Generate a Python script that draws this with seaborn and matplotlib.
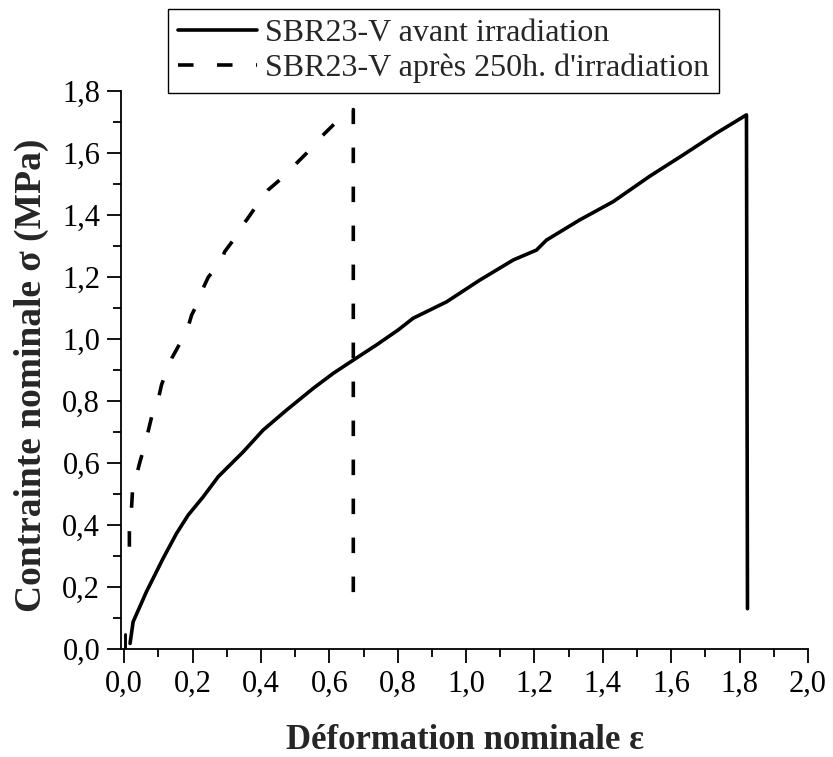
import numpy as np
import pandas as pd
import matplotlib
matplotlib.use("Agg")
import matplotlib.pyplot as plt
import seaborn as sns
from matplotlib.lines import Line2D
from matplotlib.ticker import MultipleLocator, FuncFormatter

# courbe avant irradiation
eps_avant = [0.017, 0.026, 0.045, 0.065, 0.090, 0.114, 0.153, 0.187, 0.231, 0.275,
             0.348, 0.406, 0.475, 0.553, 0.611, 0.670, 0.738, 0.801, 0.845, 0.943,
             1.040, 1.138, 1.206, 1.235, 1.332, 1.430, 1.537, 1.635, 1.732, 1.820, 1.823]
sig_avant = [0.018, 0.088, 0.135, 0.185, 0.240, 0.293, 0.373, 0.432, 0.491, 0.556,
             0.636, 0.706, 0.771, 0.841, 0.889, 0.932, 0.981, 1.029, 1.067, 1.120,
             1.190, 1.255, 1.287, 1.319, 1.384, 1.443, 1.525, 1.594, 1.664, 1.723, 0.130]

# petit pic au depart
eps_pic = [0.003, 0.003]
sig_pic = [0.0, 0.05]

# courbe apres 250h d'irradiation
eps_apres = [0.015, 0.015, 0.021, 0.026, 0.036, 0.046, 0.056, 0.065, 0.085, 0.099,
             0.109, 0.129, 0.139, 0.163, 0.177, 0.187, 0.197, 0.212, 0.226, 0.246,
             0.280, 0.294, 0.319, 0.338, 0.358, 0.392, 0.421, 0.460, 0.504, 0.533,
             0.577, 0.621, 0.655, 0.670, 0.670]
sig_apres = [0.330, 0.378, 0.450, 0.545, 0.561, 0.604, 0.642, 0.680, 0.771, 0.803,
             0.852, 0.911, 0.938, 0.986, 1.018, 1.040, 1.077, 1.110, 1.153, 1.200,
             1.244, 1.282, 1.319, 1.357, 1.384, 1.438, 1.481, 1.518, 1.567, 1.599,
             1.653, 1.701, 1.728, 1.740, 0.126]

labels = ["SBR23-V avant irradiation", "SBR23-V après 250h. d'irradiation"]

df_avant = pd.DataFrame({'eps': eps_avant, 'sig': sig_avant})
df_apres = pd.DataFrame({'eps': eps_apres, 'sig': sig_apres})

sns.set_style("ticks")
plt.rcParams['font.family'] = ['Liberation Serif', 'DejaVu Serif']

fig = plt.figure(figsize=(8.33, 7.57), dpi=100)
ax = fig.add_axes([121/833, 1 - 649/757, (808 - 121)/833, (649 - 91)/757])

lw = 2.6
sns.lineplot(data=df_avant, x='eps', y='sig', sort=False, estimator=None,
             color='black', linewidth=lw, ax=ax)
sns.lineplot(data=df_apres, x='eps', y='sig', sort=False, estimator=None,
             color='black', linewidth=lw, ax=ax, dashes=False)
ax.lines[-1].set_dashes([4.3, 6.5])
ax.lines[-1].set_dash_capstyle('butt')
ax.plot(eps_pic, sig_pic, color='black', linewidth=lw * 0.8)

ax.set_xlim(-0.0095, 2.0)
ax.set_ylim(0, 1.8)
ax.xaxis.set_major_locator(MultipleLocator(0.2))
ax.xaxis.set_minor_locator(MultipleLocator(0.1))
ax.yaxis.set_major_locator(MultipleLocator(0.2))
ax.yaxis.set_minor_locator(MultipleLocator(0.1))
virgule = FuncFormatter(lambda v, p: f"{v:.1f}".replace('.', ','))
ax.xaxis.set_major_formatter(virgule)
ax.yaxis.set_major_formatter(virgule)

ax.tick_params(which='major', direction='out', length=10, width=1.3,
               labelsize=22, color='black', labelcolor='black', pad=5)
ax.tick_params(which='minor', direction='out', length=6, width=1.3, color='black')
sns.despine(ax=ax)
for s in ['left', 'bottom']:
    ax.spines[s].set_linewidth(1.3)
    ax.spines[s].set_color('black')

ax.set_xlabel("Déformation nominale ε", fontsize=25, fontweight='bold')
ax.set_ylabel("Contrainte nominale σ (MPa)", fontsize=27, fontweight='bold')
ax.xaxis.set_label_coords(0.5, -0.135)
ax.yaxis.set_label_coords(-0.105, 0.49)

handles = [Line2D([], [], color='black', linewidth=lw),
           Line2D([], [], color='black', linewidth=lw, dashes=[4.3, 6.5],
                  dash_capstyle='butt')]
leg = fig.legend(handles, labels, loc='upper left',
                 bbox_to_anchor=(168/833, 1 - 9/757), borderaxespad=0,
                 fontsize=23, frameon=True, fancybox=False, framealpha=1,
                 edgecolor='black', handlelength=2.5, handletextpad=0.25,
                 borderpad=0.3, labelspacing=0.18)
leg.get_frame().set_linewidth(1.0)

plt.savefig("out.png", dpi=100)
